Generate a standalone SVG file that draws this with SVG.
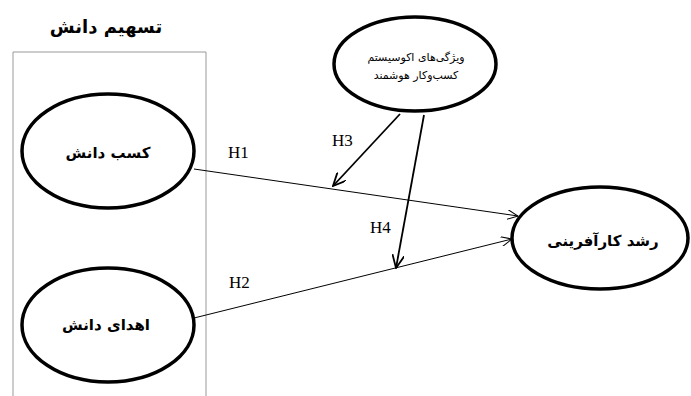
<svg xmlns="http://www.w3.org/2000/svg" width="691" height="396" viewBox="0 0 691 396">
<style>
.node{fill:#fff;stroke:#000;stroke-width:3.5}
.fa{font-family:"DejaVu Sans",sans-serif;font-weight:bold;fill:#000;text-anchor:middle;dominant-baseline:middle}
.h{font-family:"Liberation Serif",serif;font-size:17px;fill:#000}
.thin{stroke:#000;stroke-width:1;fill:none}
.thick{stroke:#000;stroke-width:1.8;fill:none}
</style>
<defs>
<marker id="ah" viewBox="0 0 12 10" refX="11" refY="5" markerWidth="12" markerHeight="10" markerUnits="userSpaceOnUse" orient="auto">
<path d="M0,0 L11,5 L0,10" fill="none" stroke="#000" stroke-width="1"/>
</marker>
<marker id="ah2" viewBox="0 0 14 12" refX="13" refY="6" markerWidth="14" markerHeight="12" markerUnits="userSpaceOnUse" orient="auto">
<path d="M0,0 L13,6 L0,12" fill="none" stroke="#000" stroke-width="1.8"/>
</marker>
</defs>
<rect width="691" height="396" fill="#fff"/>
<g id="group-box">
<path d="M13,397 V52 H206 V397" fill="none" stroke="#999" stroke-width="1"/>
<text class="fa" x="106" y="28" font-size="18">تسهیم دانش</text>
</g>
<g id="connectors">
<line class="thin" x1="194" y1="169" x2="518" y2="216" marker-end="url(#ah)"/>
<line class="thin" x1="194" y1="318" x2="512" y2="239" marker-end="url(#ah)"/>
<line class="thick" x1="400" y1="114" x2="333" y2="186" marker-end="url(#ah2)"/>
<line class="thick" x1="424" y1="115" x2="396" y2="268" marker-end="url(#ah2)"/>
<text class="h" x="228" y="158">H1</text>
<text class="h" x="229" y="288">H2</text>
<text class="h" x="332" y="146">H3</text>
<text class="h" x="370" y="233">H4</text>
</g>
<g id="node-kasb">
<ellipse class="node" cx="108" cy="151" rx="86" ry="57"/>
<text class="fa" x="108" y="153" font-size="15">کسب دانش</text>
</g>
<g id="node-ehda">
<ellipse class="node" cx="108" cy="325" rx="86" ry="57"/>
<text class="fa" x="106" y="325" font-size="15">اهدای دانش</text>
</g>
<g id="node-ecosystem">
<ellipse class="node" cx="415" cy="64" rx="81" ry="47"/>
<text class="fa" x="416" y="58" font-size="11" font-weight="normal" style="font-weight:normal">ویژگی‌های اکوسیستم</text>
<text class="fa" x="416" y="76" font-size="11" style="font-weight:normal">کسب‌وکار هوشمند</text>
</g>
<g id="node-growth">
<ellipse class="node" cx="600" cy="238" rx="88" ry="51"/>
<text class="fa" x="603" y="241" font-size="15">رشد کارآفرینی</text>
</g>
</svg>
